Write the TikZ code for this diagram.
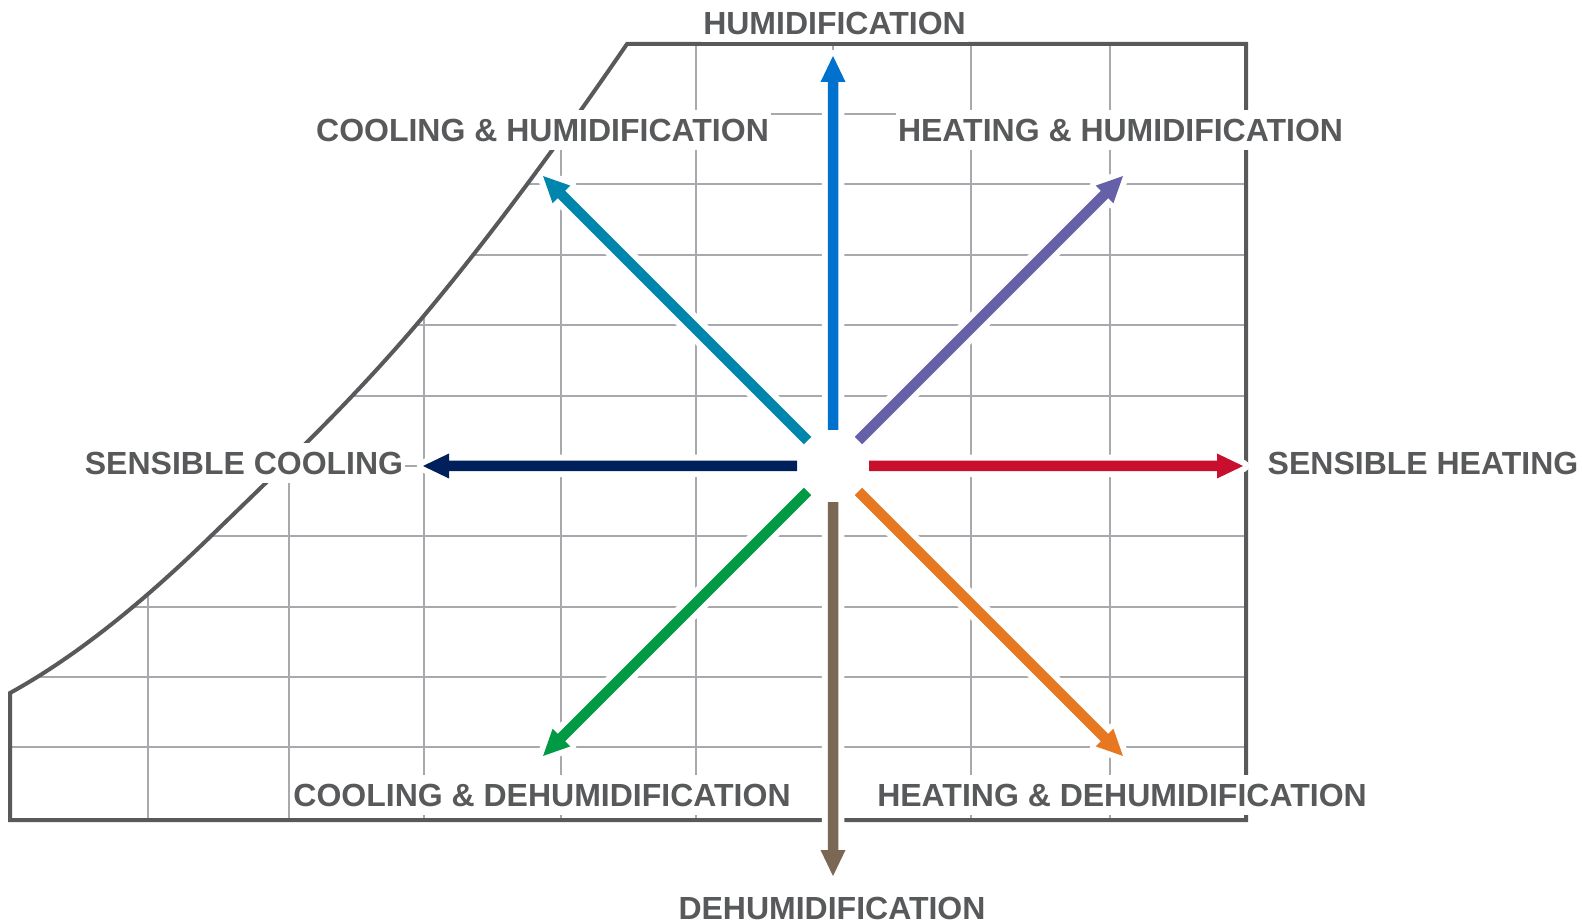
\documentclass[tikz,border=0pt]{standalone}
\usepackage{fontspec}
\setmainfont{Liberation Sans}
\definecolor{framegray}{HTML}{58595B}
\definecolor{gridgray}{HTML}{A7A9AC}
\definecolor{humblue}{HTML}{0072CE}
\definecolor{coolteal}{HTML}{0085AD}
\definecolor{heatpurple}{HTML}{6560A8}
\definecolor{coolnavy}{HTML}{00205B}
\definecolor{heatred}{HTML}{C8102E}
\definecolor{dehumgreen}{HTML}{009A44}
\definecolor{heatorange}{HTML}{E87722}
\definecolor{dehumbrown}{HTML}{7A6855}

% one process arrow: #1 direction (degrees), #2 colour, #3 name of its tip
\newcommand\processarrow[3]{%
  \begin{scope}[shift={(hub)}, rotate=#1]
    \path[fill=white, draw=white, line width=6pt, line join=round]
      (36,-5.25) -- (384,-5.25) -- (384,-12.5) -- (410,0) -- (384,12.5) -- (384,5.25) -- (36,5.25) -- cycle;
    \coordinate (#3) at (410,0);
    \fill[#2]
      (36,-5.25) -- (384,-5.25) -- (384,-12.5) -- (#3) -- (384,12.5) -- (384,5.25) -- (36,5.25) -- cycle;
  \end{scope}}

\begin{document}
\begin{tikzpicture}[x=0.5pt, y=-0.5pt,
  gridline/.style={draw=gridgray, line width=1.1pt},
  frame/.style={draw=framegray, line width=2pt},
  lbl/.style={font=\bfseries\fontsize{16pt}{16pt}\selectfont, text=framegray,
              fill=white, inner xsep=1pt, inner ysep=4.25pt,
              text height=11.5pt, text depth=0pt},
  hubdisk/.style={circle, fill=white, minimum size=36pt, inner sep=0pt}]

\useasboundingbox (0,0) rectangle (1583,924);

% chart grid, kept inside the chart outline
\begin{scope}
  \clip (10,820) -- (10,693) .. controls (77,656) and (143,602) .. (210,537)
        .. controls (279,470) and (348,405) .. (417,324)
        .. controls (487,241) and (557,146) .. (627,44)
        -- (1246,44) -- (1246,820) -- cycle;
  \foreach \x in {148,289,424,561,696,833,971,1110}
    \draw[gridline] (\x,30) -- (\x,830);
  \foreach \y in {114,184,255,325,396,466,536,607,677,747}
    \draw[gridline] (0,\y) -- (1260,\y);
\end{scope}

% chart outline with the saturation curve
\draw[frame] (10,820) -- (10,693) .. controls (77,656) and (143,602) .. (210,537)
        .. controls (279,470) and (348,405) .. (417,324)
        .. controls (487,241) and (557,146) .. (627,44)
        -- (1246,44) -- (1246,820) -- cycle;

% process labels
\node[lbl] (lhum)   at (834.5,23.5) {HUMIDIFICATION};
\node[lbl] (lchum)  at (542.5,130.5) {COOLING \& HUMIDIFICATION};
\node[lbl] (lhhum)  at (1120.5,130.5) {HEATING \& HUMIDIFICATION};
\node[lbl] (lcool)  at (244,463) {SENSIBLE COOLING};
\node[lbl] (lheat)  at (1423,463) {SENSIBLE HEATING};
\node[lbl] (lcdeh)  at (542,794.5) {COOLING \& DEHUMIDIFICATION};
\node[lbl] (lhdeh)  at (1122,794.5) {HEATING \& DEHUMIDIFICATION};
\node[lbl, inner ysep=0.5pt] (ldeh) at (832,908) {DEHUMIDIFICATION};

\draw[frame] (627,44) -- (1246,44);

% state point and the eight process directions
\node[hubdisk] (hub) at (833,466) {};
\processarrow{90}{humblue}{thum}
\processarrow{135}{coolteal}{tchum}
\processarrow{45}{heatpurple}{thhum}
\processarrow{180}{coolnavy}{tcool}
\processarrow{0}{heatred}{theat}
\processarrow{-135}{dehumgreen}{tcdeh}
\processarrow{-45}{heatorange}{thdeh}
\processarrow{-90}{dehumbrown}{tdeh}

\end{tikzpicture}
\end{document}
